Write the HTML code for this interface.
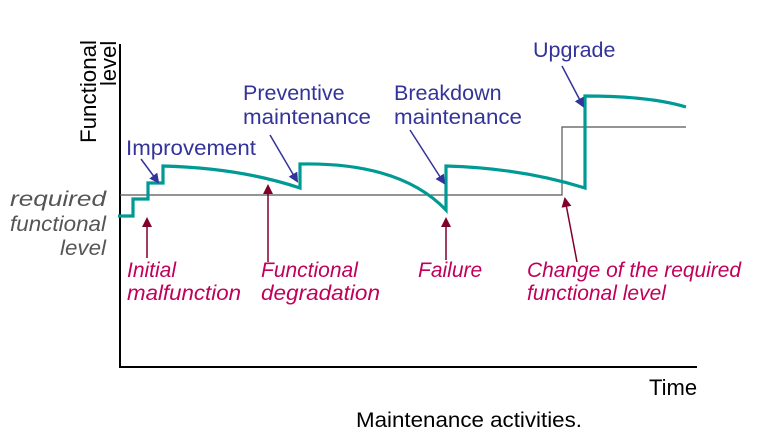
<!DOCTYPE html>
<html><head><style>
body{margin:0;background:#fff;}
svg text{font-family:"Liberation Sans",sans-serif;}
</style></head><body>
<svg width="782" height="442" viewBox="0 0 782 442" xmlns="http://www.w3.org/2000/svg">
<defs>
<marker id="b" markerWidth="10" markerHeight="10" refX="8" refY="5" orient="auto" markerUnits="userSpaceOnUse"><path d="M0,0 L10,5 L0,10 z" fill="#33339a"/></marker>
<marker id="r" markerWidth="10" markerHeight="10" refX="8" refY="5" orient="auto" markerUnits="userSpaceOnUse"><path d="M0,0 L10,5 L0,10 z" fill="#80002a"/></marker>
</defs>
<line x1="120" y1="44" x2="120" y2="368" stroke="#000" stroke-width="2"/>
<line x1="119" y1="367" x2="697" y2="367" stroke="#000" stroke-width="2"/>
<text transform="translate(96,143) rotate(-90)" font-size="22" textLength="103" lengthAdjust="spacingAndGlyphs">Functional</text>
<text transform="translate(116,86) rotate(-90)" font-size="22">level</text>
<polyline points="120,195 562,195 562,127 686,127" fill="none" stroke="#555" stroke-width="1.2"/>
<path d="M118,216 L133,216 L133,199 L148,199 L148,183 L163,183 L163,166 Q240,168 300,188 L300,164 Q400,162 446,210 L446,166 Q520,168 585,188 L585,96 Q650,96 686,107" fill="none" stroke="#009a95" stroke-width="3.2"/>
<g stroke="#33339a" stroke-width="1.5" marker-end="url(#b)">
<line x1="141" y1="159" x2="158" y2="182"/>
<line x1="270" y1="135" x2="297" y2="181"/>
<line x1="410" y1="130" x2="444" y2="183"/>
<line x1="562" y1="66" x2="583" y2="106"/>
</g>
<g stroke="#80002a" stroke-width="1.5" marker-end="url(#r)">
<line x1="147" y1="258" x2="147" y2="219"/>
<line x1="268" y1="262" x2="268" y2="186"/>
<line x1="446" y1="260" x2="446" y2="219"/>
<line x1="577" y1="262" x2="565" y2="199"/>
</g>
<g fill="#33339a" font-size="21.5">
<text x="126" y="155" textLength="130" lengthAdjust="spacingAndGlyphs">Improvement</text>
<text x="243" y="100">Preventive</text>
<text x="243" y="124" textLength="128" lengthAdjust="spacingAndGlyphs">maintenance</text>
<text x="394" y="100">Breakdown</text>
<text x="394" y="124" textLength="128" lengthAdjust="spacingAndGlyphs">maintenance</text>
<text x="533" y="57">Upgrade</text>
</g>
<g fill="#555" font-size="21.5" font-style="italic">
<text x="10" y="206" textLength="96" lengthAdjust="spacingAndGlyphs">required</text>
<text x="10" y="231" textLength="96" lengthAdjust="spacingAndGlyphs">functional</text>
<text x="60" y="255" textLength="46" lengthAdjust="spacingAndGlyphs">level</text>
</g>
<g fill="#c0005a" font-size="21" font-style="italic">
<text x="127" y="277">Initial</text>
<text x="127" y="300" textLength="114" lengthAdjust="spacingAndGlyphs">malfunction</text>
<text x="261" y="277">Functional</text>
<text x="261" y="300" textLength="119" lengthAdjust="spacingAndGlyphs">degradation</text>
<text x="418" y="277">Failure</text>
<text x="527" y="277" textLength="214" lengthAdjust="spacingAndGlyphs">Change of the required</text>
<text x="527" y="300">functional level</text>
</g>
<text x="649" y="395" font-size="22">Time</text>
<text x="356" y="427" font-size="21" textLength="226" lengthAdjust="spacingAndGlyphs">Maintenance activities.</text>
</svg>
</body></html>
